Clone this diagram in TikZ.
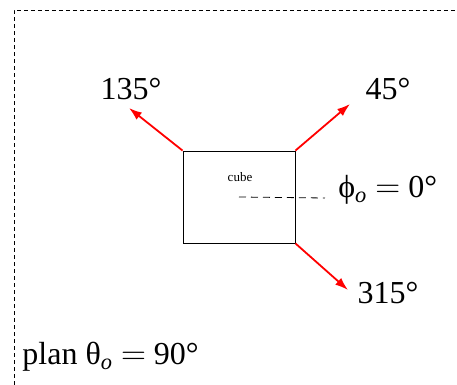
\documentclass[tikz,border=0pt]{standalone}
\usepackage{fontspec}
\setmainfont{Liberation Serif}
\usetikzlibrary{arrows.meta,positioning}

\begin{document}
\begin{tikzpicture}[x=0.5pt, y=-0.5pt,
    lbl/.style={font=\fontsize{16}{19}\selectfont, inner sep=0pt},
    dir/.style={-{Latex[length=6.5pt,width=4.5pt]}, red, line width=0.9pt}
]
\useasboundingbox (0,0) rectangle (457,385);
% frame of the plan
\draw[dash pattern=on 2pt off 1.5pt, line width=0.4pt] (14,385) -- (14,10) -- (457,10);

\node[draw, line width=0.4pt, minimum width=56pt, minimum height=46pt, inner sep=0pt] (cube) at (239,197) {};
\node[font=\fontsize{6.5}{7}\selectfont, inner sep=0pt] (cubelbl) at (240,177) {cube};

\coordinate (tip135) at (129,108);
\coordinate (tip45) at (350,104);
\coordinate (tip315) at (348,290);
\coordinate (phiend) at (325,198);

\draw[dir] (cube.north west) -- (tip135);
\draw[dir] (cube.north east) -- (tip45);
\draw[dir] (cube.south east) -- (tip315);
\draw[dash pattern=on 3.5pt off 2.5pt, line width=0.4pt] (cube.center) -- (phiend);

\node[lbl] (l135) at (131,89) {135°};
\node[lbl] (l45) at (388,89) {45°};
\node[lbl] (l315) at (388,293) {315°};
\node[lbl, anchor=west] (lphi) at (338,190) {ϕ\textsubscript{\textit{o}} $=$ 0°};
\node[lbl, anchor=west] (lplan) at (22,357) {plan θ\textsubscript{\textit{o}} $=$ 90°};
\end{tikzpicture}
\end{document}
